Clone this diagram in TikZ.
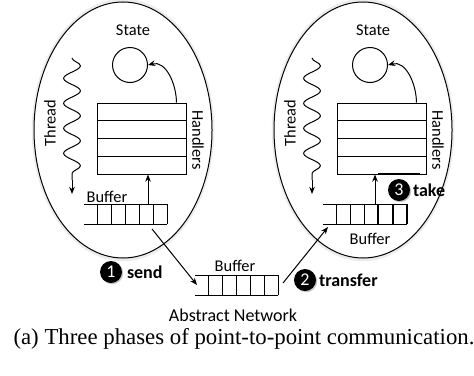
\documentclass[tikz,border=0pt]{standalone}
\usepackage{fontspec}
\setmainfont{Carlito}
\newfontfamily\capfont{Liberation Serif}
\usetikzlibrary{arrows.meta,positioning,calc,shapes.geometric,shadows,decorations.pathmorphing}

\begin{document}
\begin{tikzpicture}[x=0.5pt, y=-0.5pt, line width=0.5pt,
    >={Stealth[length=3.6pt,width=2.8pt]},
    proc/.style={draw, ellipse, fill=white, inner sep=0pt,
        minimum width=89pt, minimum height=128pt,
        drop shadow={opacity=0.15, shadow xshift=0pt, shadow yshift=0pt, shadow scale=1.025}},
    statenode/.style={draw, circle, minimum size=17.5pt, inner sep=0pt},
    handlerbox/.style={draw, rectangle, minimum width=44.5pt, minimum height=35.5pt, inner sep=0pt},
    lbl/.style={font=\fontsize{8.2}{9}\selectfont, inner sep=0pt},
    phase/.style={circle, fill=black, text=white, minimum size=11pt, inner sep=0pt,
        font=\fontsize{9}{9}\selectfont,
        drop shadow={opacity=0.45, shadow xshift=0.6pt, shadow yshift=-0.6pt}},
    act/.style={font=\fontsize{9}{10}\selectfont\bfseries, inner sep=0pt}]
    \useasboundingbox (0,0) rectangle (474,375);

    % the two processes
    \foreach \p/\dx in {L/0, R/240} {
        \node[proc] (proc\p) at (123+\dx,130) {};
        % state
        \node[lbl] at (133+\dx,30) {State};
        \node[statenode] (st\p) at (130+\dx,65) {};
        % handlers
        \node[handlerbox] (hd\p) at (141.5+\dx,138.5) {};
        \foreach \k in {1,2,3}
            \draw ($(hd\p.north west)!\k/4!(hd\p.south west)$) -- ($(hd\p.north east)!\k/4!(hd\p.south east)$);
        \node[lbl, rotate=-90] at (198+\dx,140) {Handlers};
        \draw[->] ($(hd\p.north west)!0.888!(hd\p.north east)$) to[out=90, in=15] (st\p.east);
        % thread
        \coordinate (thtop\p) at (72+\dx,58);
        \coordinate (thend\p) at (72+\dx,180);
        \draw[decorate, decoration={snake, segment length=12.5pt, amplitude=4.2pt}] (thtop\p) -- (thend\p);
        \draw[->] (thend\p) -- ++(0,14);
        \node[lbl, rotate=90] at (50+\dx,123) {Thread};
    }

    % buffer of the sender
    \draw (84,204) -- (167,204) (84,224) -- (167,224);
    \foreach \x in {97,111,...,167} \draw (\x,204) -- (\x,224);
    \node[lbl] at (107,197) {Buffer};
    \coordinate (upL) at (148,204);
    \draw[->] (upL) -- (upL |- hdL.south);

    % buffer of the network
    \draw (195,275) -- (278,275) (195,295) -- (278,295);
    \foreach \x in {208,222,...,278} \draw (\x,275) -- (\x,295);
    \node[lbl] at (235,266) {Buffer};
    \node[font=\fontsize{9}{10}\selectfont, inner sep=0pt] at (233,315) {Abstract Network};

    % buffer of the receiver
    \draw (323,204) -- (407,204) (323,224) -- (407,224);
    \foreach \x in {336,350,364} \draw (\x,204) -- (\x,224);
    \foreach \x in {378,393,407} \draw[line width=1.1pt] (\x,204) -- (\x,224);
    \node[lbl] at (370,239) {Buffer};
    \coordinate (upR) at (375,204);
    \draw[->] (upR) -- (upR |- hdR.south);
    \draw[line width=1.3pt] (378,174) -- (420,174);

    % the three phases
    \coordinate (sendout) at (152,229);
    \coordinate (netin) at (197,285);
    \draw[->] (sendout) -- (netin);
    \coordinate (netout) at (283,283);
    \coordinate (recvin) at (328,227);
    \draw[->] (netout) -- (recvin);

    \node[phase] (p1) at (111,272) {1};
    \node[act, right=2pt of p1] (send) {send};
    \node[phase] (p2) at (305,280) {2};
    \node[act, right=1pt of p2] (transfer) {transfer};
    \node[phase] (p3) at (399,190) {3};
    \node[act, right=1pt of p3] (take) {take};

    \node[font=\capfont\fontsize{11.4}{13}\selectfont, anchor=west, inner sep=0pt] at (13,339)
        {(a) Three phases of point-to-point communication.};
\end{tikzpicture}
\end{document}
